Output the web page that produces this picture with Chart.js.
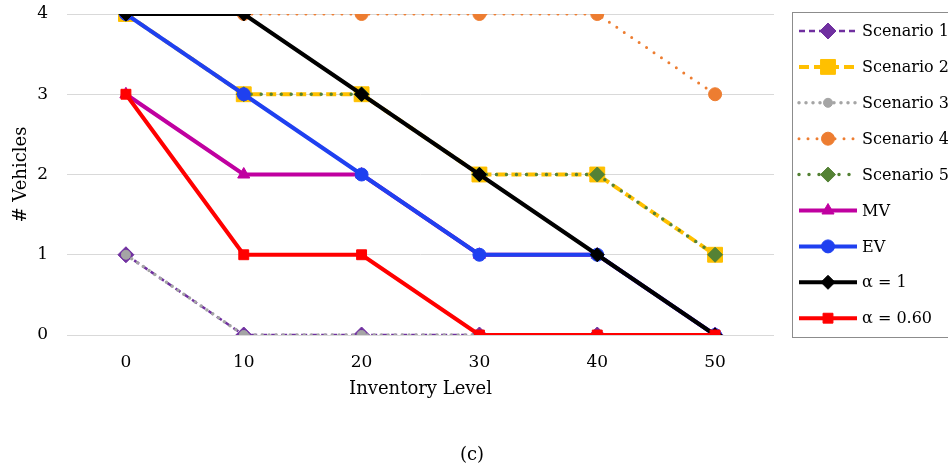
<!DOCTYPE html>
<html>
<head>
  <meta charset="utf-8" />
  <title>Inventory Level vs Vehicles</title>
  <style>
    body { margin: 0; background: #fff; }
  </style>
</head>
<body>
  <canvas id="stage" width="948" height="469"></canvas>

  <script src="https://cdn.jsdelivr.net/npm/chart.js@4.4.0/dist/chart.umd.min.js"></script>
  <script>
    // データ
    const inventory = ['0', '10', '20', '30', '40', '50'];
    const seriesNames = ['Scenario 1', 'Scenario 2', 'Scenario 3', 'Scenario 4', 'Scenario 5', 'MV', 'EV', 'α = 1', 'α = 0.60'];
    const scenario1 = [1, 0, 0, 0, 0, 0];
    const scenario2 = [4, 3, 3, 2, 2, 1];
    const scenario3 = [1, 0, 0, 0, 0, 0];
    const scenario4 = [4, 4, 4, 4, 4, 3];
    const scenario5 = [4, 3, 3, 2, 2, 1];
    const mv = [3, 2, 2, 1, 1, 0];
    const ev = [4, 3, 2, 1, 1, 0];
    const alpha1 = [4, 4, 3, 2, 1, 0];
    const alpha060 = [3, 1, 1, 0, 0, 0];
    const yTicks = [0, 1, 2, 3, 4];

    Chart.defaults.font.family = "'DejaVu Serif', serif";
    Chart.defaults.font.size = 17;
    Chart.defaults.color = '#000';

    // 系列ごとの見た目
    const styles = [
      { color: '#7030A0', width: 2.5, dash: [6, 4],  cap: 'butt',  point: 'rectRot',  r: 8 },
      { color: '#FFC000', width: 4,   dash: [10, 5], cap: 'butt',  point: 'rect',     r: 10.5 },
      { color: '#A5A5A5', width: 3.5, dash: [0, 7],  cap: 'round', point: 'circle',   r: 4.5 },
      { color: '#ED7D31', width: 3,   dash: [0, 9],  cap: 'round', point: 'circle',   r: 6.5 },
      { color: '#548235', width: 3.5, dash: [0, 10], cap: 'round', point: 'rectRot',  r: 7.5 },
      { color: '#C000A0', width: 4,   dash: [],      cap: 'butt',  point: 'triangle', r: 7 },
      { color: '#1F40F0', width: 4,   dash: [],      cap: 'butt',  point: 'circle',   r: 6.5 },
      { color: '#000000', width: 4,   dash: [],      cap: 'butt',  point: 'rectRot',  r: 7 },
      { color: '#FF0000', width: 4,   dash: [],      cap: 'butt',  point: 'rect',     r: 7 }
    ];
    const values = [scenario1, scenario2, scenario3, scenario4, scenario5, mv, ev, alpha1, alpha060];

    const datasets = values.map((v, i) => ({
      label: seriesNames[i],
      data: v,
      borderColor: styles[i].color,
      backgroundColor: styles[i].color,
      borderWidth: styles[i].width,
      borderDash: styles[i].dash,
      borderCapStyle: styles[i].cap,
      pointStyle: styles[i].point,
      pointRadius: styles[i].r,
      pointBorderWidth: 1,
      pointBorderColor: styles[i].color,
      pointBackgroundColor: styles[i].color,
      tension: 0,
      order: values.length - i   // 後の系列を上に描く
    }));

    // 右側の凡例（線＋マーカー）と下の (c)
    const sideLegend = {
      id: 'sideLegend',
      afterDraw(chart) {
        const ctx = chart.ctx;
        ctx.save();
        ctx.strokeStyle = '#8c8c8c';
        ctx.lineWidth = 1;
        ctx.strokeRect(792.5, 12.5, 160, 325);
        chart.data.datasets.forEach((ds, i) => {
          const y = 31 + i * 35.9;
          ctx.save();
          ctx.strokeStyle = ds.borderColor;
          ctx.lineWidth = ds.borderWidth;
          ctx.setLineDash(ds.borderDash);
          ctx.lineCap = ds.borderCapStyle;
          ctx.beginPath();
          ctx.moveTo(799, y);
          ctx.lineTo(857, y);
          ctx.stroke();
          ctx.restore();
          ctx.fillStyle = ds.pointBackgroundColor;
          ctx.strokeStyle = ds.pointBorderColor;
          ctx.lineWidth = 1;
          Chart.helpers.drawPoint(ctx, { pointStyle: ds.pointStyle, radius: ds.pointRadius, borderWidth: 1, rotation: 0 }, 828, y);
          ctx.fillStyle = '#000';
          ctx.font = "16px 'DejaVu Serif'";
          ctx.textBaseline = 'middle';
          ctx.textAlign = 'left';
          ctx.fillText(ds.label, 862, y + 1);
        });
        ctx.font = "18px 'DejaVu Serif'";
        ctx.textAlign = 'center';
        ctx.textBaseline = 'middle';
        ctx.fillStyle = '#000';
        ctx.fillText('(c)', 472, 455);
        ctx.restore();
      }
    };

    new Chart(document.getElementById('stage'), {
      type: 'line',
      data: { labels: inventory, datasets: datasets },
      options: {
        responsive: false,
        animation: false,
        layout: { padding: { top: 14, right: 174, bottom: 64.6, left: 0 } },
        plugins: {
          legend: { display: false },
          tooltip: { enabled: false }
        },
        scales: {
          x: {
            offset: true,
            grid: { display: false, drawTicks: false },
            border: { display: false },
            ticks: { padding: 17 },
            title: { display: true, text: 'Inventory Level', font: { size: 18 }, padding: { top: 0, bottom: 4 } },
            afterFit(scale) { scale.height = 69.4; }
          },
          y: {
            min: 0,
            max: 4,
            afterBuildTicks(scale) { scale.ticks = yTicks.map(v => ({ value: v })); },
            grid: { color: '#d9d9d9', lineWidth: 1, drawTicks: false },
            border: { display: false },
            ticks: { padding: 19 },
            title: { display: true, text: '# Vehicles', font: { size: 18 }, padding: { top: 11, bottom: 0 } },
            afterFit(scale) { scale.width = 67; scale.paddingTop = 0; scale.paddingBottom = 0; }
          }
        }
      },
      plugins: [sideLegend]
    });
  </script>
</body>
</html>
